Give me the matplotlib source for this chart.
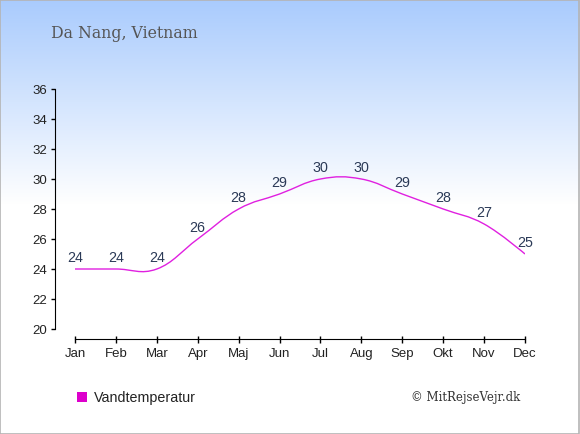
import numpy as np
import matplotlib
matplotlib.use("Agg")
import matplotlib.pyplot as plt
from matplotlib.path import Path
from matplotlib.patches import PathPatch, Rectangle

months = ["Jan", "Feb", "Mar", "Apr", "Maj", "Jun", "Jul", "Aug", "Sep", "Okt", "Nov", "Dec"]
water_temp = [24, 24, 24, 26, 28, 29, 30, 30, 29, 28, 27, 25]
y_ticks = [20, 22, 24, 26, 28, 30, 32, 34, 36]
title = "Da Nang, Vietnam"
legend_label = "Vandtemperatur"
credit = "\u00a9 MitRejseVejr.dk"

W, H = 580, 435
PX = 72 / 100  # points per pixel
fig = plt.figure(figsize=(W / 100, H / 100), dpi=100)

# background gradient
bg = fig.add_axes([0, 0, 1, 1], zorder=0)
grad = np.ones((H, 1, 3))
top = np.array([0xa9, 0xcb, 0xfd]) / 255.0
for i in range(H):
    f = min(i / 205.0, 1.0)
    grad[i, 0, :] = top * (1 - f) + np.ones(3) * f
bg.imshow(grad, aspect="auto", extent=[0, 1, 0, 1], origin="upper")
bg.add_patch(Rectangle((0.0008, 0.001), 0.9975, 0.9975, transform=bg.transAxes,
                       fill=False, edgecolor="#b4b4b4", lw=1.2))
bg.set_xlim(0, 1); bg.set_ylim(0, 1)
bg.axis("off")

ax = fig.add_axes([75 / W, (H - 330) / H, 450 / W, 240 / H], zorder=1)
ax.set_facecolor("none")
x = np.arange(len(months))
y = np.array(water_temp, dtype=float)
ax.set_xlim(0, len(months) - 1)
ax.set_ylim(y_ticks[0], y_ticks[-1])

# smooth spline (Highcharts-like control points)
sm = 1.5
den = sm + 1
n = len(x)
lc = [None] * n
rc = [None] * n
for i in range(n):
    if i == 0 or i == n - 1:
        lc[i] = (x[i], y[i]); rc[i] = (x[i], y[i])
        continue
    lx = (sm * x[i] + x[i - 1]) / den
    ly = (sm * y[i] + y[i - 1]) / den
    rx = (sm * x[i] + x[i + 1]) / den
    ry = (sm * y[i] + y[i + 1]) / den
    corr = (ry - ly) * (rx - x[i]) / (rx - lx) + y[i] - ry
    lc[i] = (lx, ly + corr); rc[i] = (rx, ry + corr)
verts = [(x[0], y[0])]
codes = [Path.MOVETO]
for i in range(1, n):
    verts += [rc[i - 1], lc[i], (x[i], y[i])]
    codes += [Path.CURVE4] * 3
ax.add_patch(PathPatch(Path(verts, codes), fill=False, edgecolor="#e020e0", lw=1.0))

for xi, yi in zip(x, water_temp):
    ax.annotate(str(yi), (xi, yi), xytext=(0, 12 * PX), textcoords="offset points",
                ha="center", va="center", fontsize=10.3, color="#2b3a57",
                family="Liberation Sans")

for s in ["top", "right"]:
    ax.spines[s].set_visible(False)
ax.spines["left"].set_position(("outward", 20 * PX))
ax.spines["bottom"].set_position(("outward", 10 * PX))
ax.spines["left"].set_bounds(y_ticks[0], y_ticks[-1])
ax.spines["bottom"].set_bounds(0, n - 1)
ax.set_yticks(y_ticks)
ax.set_yticklabels([str(t) for t in y_ticks])
ax.set_xticks(x)
ax.set_xticklabels(months)
ax.tick_params(axis="y", length=4 * PX, width=1, pad=4 * PX, labelsize=9.5)
ax.tick_params(axis="x", direction="inout", length=7 * PX, width=1, pad=5 * PX, labelsize=9.5)
for lab in ax.get_xticklabels() + ax.get_yticklabels():
    lab.set_family("Liberation Sans")
    lab.set_color("#222222")

fig.text(51 / W, 1 - 33 / H, title, fontsize=11.3, family="DejaVu Serif",
         color="#555555", ha="left", va="center", zorder=3)

fig.patches.append(Rectangle((77 / W, 1 - 403 / H), 10 / W, 10 / H,
                             transform=fig.transFigure, facecolor="#dd00cc",
                             edgecolor="none", zorder=3))
fig.text(94 / W, 1 - 398 / H, legend_label, fontsize=10.3, family="Liberation Sans",
         color="#222222", ha="left", va="center", zorder=3)
fig.text(520 / W, 1 - 398 / H, credit, fontsize=8.5, family="DejaVu Serif",
         color="#333333", ha="right", va="center", zorder=3)

fig.savefig("out.png", dpi=100)
